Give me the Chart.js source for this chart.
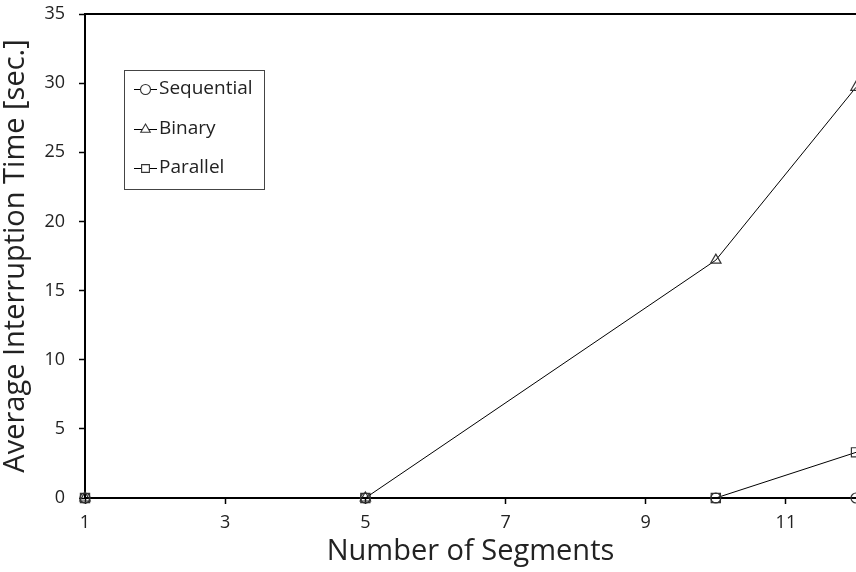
<!DOCTYPE html>
<html>
<head>
<meta charset="utf-8">
<script src="https://cdn.jsdelivr.net/npm/chart.js@4.4.1/dist/chart.umd.min.js"></script>
<style>
  html, body { margin: 0; padding: 0; background: #fff; }
  #wrap { width: 856px; height: 572px; }
</style>
</head>
<body>
<div id="wrap"><canvas id="chart" width="856" height="572"></canvas></div>
<script>
// DATA
const segments = [1, 5, 10, 12];
const sequential = [0, 0, 0, 0];
const binary = [0, 0, 17.2, 29.7];
const parallel = [0, 0, 0, 3.3];
const xTicks = [1, 3, 5, 7, 9, 11];
const yTicks = [0, 5, 10, 15, 20, 25, 30, 35];

const FONT = "'Open Sans', sans-serif";
const INK = '#222';

function toPoints(values) {
  return segments.map((x, i) => ({ x: x, y: values[i] }));
}

function series(label, values, style, radius) {
  return {
    label: label,
    data: toPoints(values),
    borderColor: '#000',
    backgroundColor: 'rgba(255,255,255,0)',
    borderWidth: 1,
    pointStyle: style,
    pointRadius: radius,
    pointHoverRadius: radius,
    pointBorderColor: '#333',
    pointBackgroundColor: 'rgba(255,255,255,0)',
    pointBorderWidth: 1.2,
    fill: false,
    tension: 0,
    clip: false
  };
}

// legend drawn inside the plot, line + marker + line
const boxLegend = {
  id: 'boxLegend',
  afterDraw(chart) {
    const ctx = chart.ctx;
    const area = chart.chartArea;
    // top frame line
    ctx.save();
    ctx.strokeStyle = '#000';
    ctx.lineWidth = 2;
    ctx.beginPath();
    ctx.moveTo(area.left, area.top);
    ctx.lineTo(area.right, area.top);
    ctx.stroke();

    const bx = 124, by = 70, bw = 140, bh = 119;
    ctx.lineWidth = 1;
    ctx.strokeStyle = '#444';
    ctx.strokeRect(bx + 0.5, by + 0.5, bw, bh);

    const rows = [89, 129, 168];
    ctx.textBaseline = 'middle';
    chart.data.datasets.forEach((ds, i) => {
      const y = rows[i];
      ctx.strokeStyle = '#000';
      ctx.lineWidth = 1;
      ctx.beginPath();
      ctx.moveTo(134, y + 0.5);
      ctx.lineTo(157, y + 0.5);
      ctx.stroke();
      ctx.strokeStyle = '#333';
      ctx.fillStyle = '#fff';
      ctx.lineWidth = 1.1;
      Chart.helpers.drawPoint(ctx, {
        pointStyle: ds.pointStyle,
        radius: ds.pointStyle === 'circle' ? 5 : 5.5,
        borderWidth: 1.1
      }, 145.5, y + 0.5);
      ctx.font = '19px ' + FONT;
      ctx.fillStyle = INK;
      ctx.fillText(ds.label, 159, y);
    });
    ctx.restore();
  }
};

new Chart(document.getElementById('chart'), {
  type: 'line',
  data: {
    datasets: [
      series('Sequential', sequential, 'circle', 5),
      series('Binary', binary, 'triangle', 6),
      series('Parallel', parallel, 'rect', 6.5)
    ]
  },
  options: {
    responsive: false,
    animation: false,
    layout: { autoPadding: false, padding: { top: 14, right: 0, left: 0, bottom: 0 } },
    plugins: { legend: { display: false }, tooltip: { enabled: false } },
    scales: {
      x: {
        type: 'linear',
        min: 1,
        max: 12,
        afterBuildTicks: axis => { axis.ticks = xTicks.map(v => ({ value: v })); },
        afterFit: axis => { axis.height = 74; axis.paddingLeft = 0; axis.paddingRight = 0; },
        border: { display: true, color: '#000', width: 2 },
        grid: { drawOnChartArea: false, drawTicks: true, tickLength: 6, tickColor: '#000', tickWidth: 1.5 },
        ticks: { color: INK, font: { family: FONT, size: 18 }, padding: 8, maxRotation: 0 },
        title: { display: true, text: 'Number of Segments', color: INK, font: { family: FONT, size: 29 }, padding: { top: 0, bottom: 3 } }
      },
      y: {
        min: 0,
        max: 35,
        afterBuildTicks: axis => { axis.ticks = yTicks.map(v => ({ value: v })); },
        afterFit: axis => { axis.width = 85; axis.paddingTop = 0; axis.paddingBottom = 0; },
        border: { display: true, color: '#000', width: 2 },
        grid: { drawOnChartArea: false, drawTicks: true, tickLength: 6, tickColor: '#000', tickWidth: 1.5 },
        ticks: { color: INK, font: { family: FONT, size: 18 }, padding: 14 },
        title: { display: true, text: 'Average Interruption Time [sec.]', color: INK, font: { family: FONT, size: 29 }, padding: { top: -2, bottom: 0 } }
      }
    }
  },
  plugins: [boxLegend]
});
</script>
</body>
</html>
